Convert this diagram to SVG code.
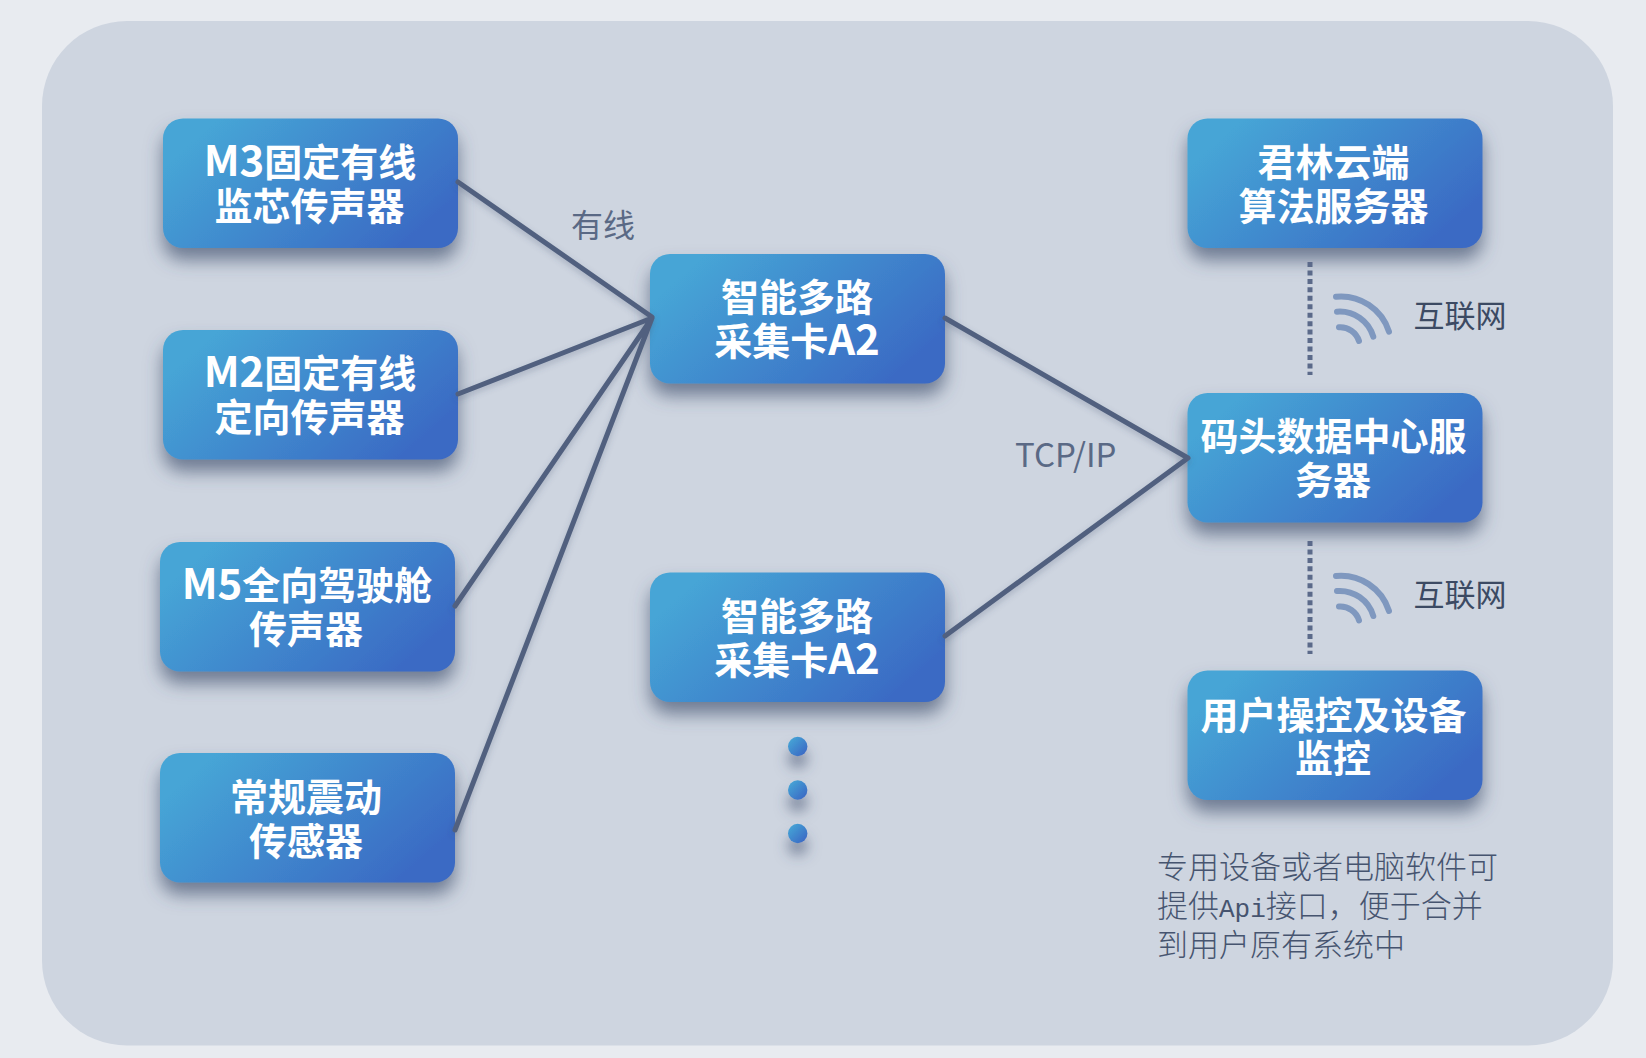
<svg xmlns="http://www.w3.org/2000/svg" width="1646" height="1058" viewBox="0 0 1646 1058">
<style>
.n{fill:url(#g);filter:url(#s)}
.t{font-family:"Noto Sans CJK SC","Noto Sans",sans-serif;font-weight:700;font-size:38px;fill:#fff;text-anchor:middle}
.la{font-size:42px}
.l{stroke:#51617f;stroke-width:5;fill:none;stroke-linecap:round}
.d{stroke:#5b6a8a;stroke-width:5;stroke-dasharray:5 3.45;fill:none}
.w{stroke:#7f98bf;stroke-width:6;fill:none;stroke-linecap:round}
.c{font-family:"Noto Sans CJK SC","Noto Sans",sans-serif}
.c1{font-size:31px;fill:#3c4a63;font-weight:400}
.c2{font-size:32px;fill:#5a6985;font-weight:400}
.c3{font-size:31px;fill:#46546f;font-weight:300}
</style>
<defs>
<linearGradient id="g" x1="0" y1="0.25" x2="1" y2="0.75"><stop offset="0.05" stop-color="#46a5d6"/><stop offset="0.95" stop-color="#3a6ac4"/></linearGradient>
<linearGradient id="g2" x1="0" y1="0" x2="1" y2="1"><stop offset="0.1" stop-color="#46a5d6"/><stop offset="0.9" stop-color="#3a68c4"/></linearGradient>
<filter id="s" x="-20%" y="-20%" width="140%" height="160%"><feDropShadow dx="0" dy="12" stdDeviation="9" flood-color="#3f4f6e" flood-opacity="0.68"/></filter>
<filter id="ds" x="-150%" y="-150%" width="400%" height="480%"><feDropShadow dx="0" dy="12" stdDeviation="7" flood-color="#3f4f6e" flood-opacity="0.6"/></filter>
<filter id="ls" x="-10%" y="-10%" width="120%" height="120%"><feDropShadow dx="0" dy="3" stdDeviation="3" flood-color="#3f4f6e" flood-opacity="0.3"/></filter>
</defs>
<rect width="1646" height="1058" fill="#e8ebf0"/>
<rect id="panel" x="42" y="21" width="1571" height="1024.5" rx="85" fill="#ced5e0"/>
<g id="n1"><rect class="n" x="163" y="118.5" width="295" height="129.5" rx="20"/><text class="t" x="310" y="176"><tspan class="la">M3</tspan>固定有线</text><text class="t" x="309.5" y="220">监芯传声器</text></g>
<g id="n2"><rect class="n" x="163" y="330" width="295" height="129.5" rx="20"/><text class="t" x="310" y="387"><tspan class="la">M2</tspan>固定有线</text><text class="t" x="309.5" y="431">定向传声器</text></g>
<g id="n3"><rect class="n" x="160" y="542" width="295" height="129.5" rx="20"/><text class="t" x="307" y="599"><tspan class="la">M5</tspan>全向驾驶舱</text><text class="t" x="306" y="643">传声器</text></g>
<g id="n4"><rect class="n" x="160" y="753" width="295" height="129.5" rx="20"/><text class="t" x="306" y="811">常规震动</text><text class="t" x="306" y="855">传感器</text></g>
<g id="n5"><rect class="n" x="650" y="254" width="295" height="129.5" rx="20"/><text class="t" x="797" y="311">智能多路</text><text class="t" x="797" y="355">采集卡<tspan class="la">A2</tspan></text></g>
<g id="n6"><rect class="n" x="650" y="572.5" width="295" height="129.5" rx="20"/><text class="t" x="797" y="630">智能多路</text><text class="t" x="797" y="674">采集卡<tspan class="la">A2</tspan></text></g>
<g id="n7"><rect class="n" x="1187.5" y="118.5" width="295" height="129.5" rx="20"/><text class="t" x="1333.5" y="176">君林云端</text><text class="t" x="1333.5" y="220">算法服务器</text></g>
<g id="n8"><rect class="n" x="1187.5" y="393" width="295" height="129.5" rx="20"/><text class="t" x="1333.5" y="450">码头数据中心服</text><text class="t" x="1333" y="494">务器</text></g>
<g id="n9"><rect class="n" x="1187.5" y="670.5" width="295" height="129.5" rx="20"/><text class="t" x="1333.5" y="729">用户操控及设备</text><text class="t" x="1333" y="772">监控</text></g>
<g id="connectors">
<g filter="url(#ls)">
<path class="l" d="M458 182L652 317M458 394L652 318M455 606L652 318M455 830L652 318M945 318L1188 458M945 636L1188 458"/>
</g>
<path class="d" d="M1310 262V375M1310 541V654"/>
</g>
<g id="dots">
<circle cx="797.7" cy="746.5" r="9.7" fill="url(#g2)" filter="url(#ds)"/>
<circle cx="797.7" cy="790" r="9.7" fill="url(#g2)" filter="url(#ds)"/>
<circle cx="797.7" cy="833.5" r="9.7" fill="url(#g2)" filter="url(#ds)"/>
</g>
<g id="wifi1"><path class="w" d="M1336 296.7A50.5 50.5 0 0 1 1389 331.7M1337 311.7A35 35 0 0 1 1373.3 336.7M1339 327.3A19.5 19.5 0 0 1 1359 341"/></g>
<g id="wifi2" transform="translate(0 279.3)"><path class="w" d="M1336 296.7A50.5 50.5 0 0 1 1389 331.7M1337 311.7A35 35 0 0 1 1373.3 336.7M1339 327.3A19.5 19.5 0 0 1 1359 341"/></g>
<text class="c c2" x="571" y="237">有线</text>
<text class="c c2" x="1015" y="467" style="font-size:33px">TCP/IP</text>
<text class="c c1" x="1413.5" y="327">互联网</text>
<text class="c c1" x="1413.5" y="606">互联网</text>
<text class="c c3" x="1157" y="878">专用设备或者电脑软件可</text>
<text class="c c3" x="1157" y="917">提供<tspan style="font-family:'Liberation Mono',monospace;font-size:26px">Api</tspan>接口，便于合并</text>
<text class="c c3" x="1157" y="956">到用户原有系统中</text>
</svg>
